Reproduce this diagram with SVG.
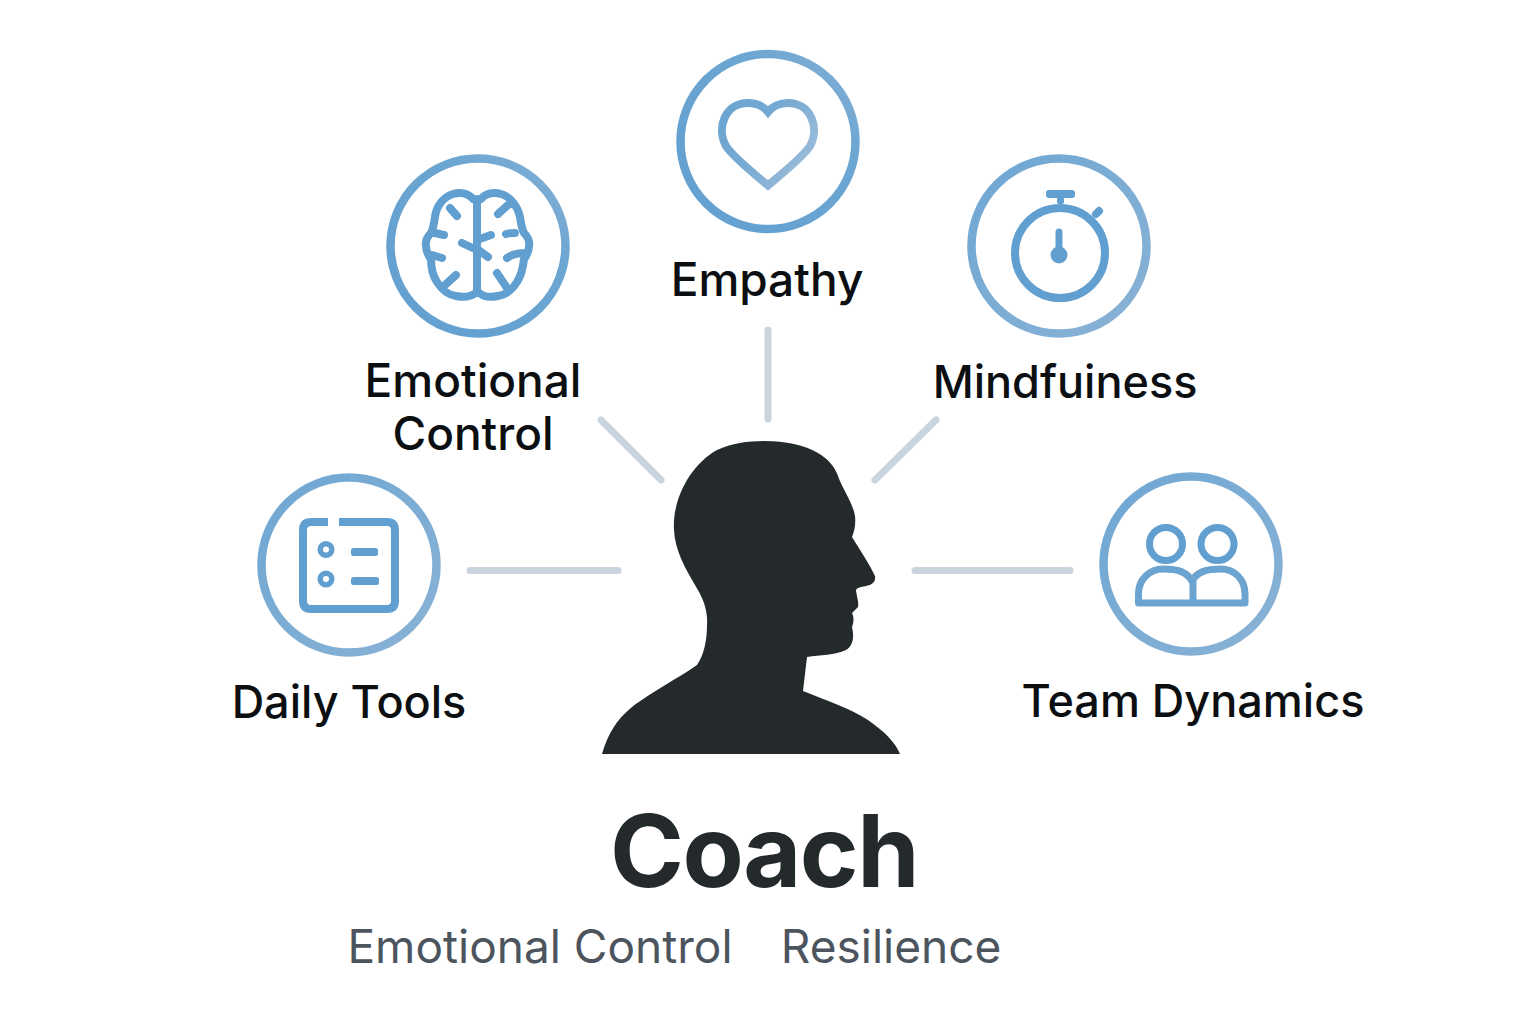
<svg xmlns="http://www.w3.org/2000/svg" width="1536" height="1024" viewBox="0 0 1536 1024">
<defs>
<linearGradient id="g1" x1="0" y1="1" x2="1" y2="0"><stop offset="0" stop-color="#629fd0"/><stop offset="0.7" stop-color="#6ca6d2"/><stop offset="1" stop-color="#86b0d5"/></linearGradient>
<linearGradient id="g2" x1="0" y1="0" x2="1" y2="1"><stop offset="0" stop-color="#6ea7d3"/><stop offset="1" stop-color="#8ab2d5"/></linearGradient>
<linearGradient id="g3" x1="0" y1="0" x2="1" y2="0.600"><stop offset="0" stop-color="#6ba4d1"/><stop offset="0.5" stop-color="#76aad3"/><stop offset="1" stop-color="#9abbd9"/></linearGradient>
</defs>
<style>
.ring{fill:#fff;stroke:url(#g2);stroke-width:8.500}
.ic{fill:none;stroke:#619fd0;stroke-width:8;stroke-linecap:round;stroke-linejoin:round}
.fl{fill:#619fd0}
.cn{stroke:#c9d4df;stroke-width:7;stroke-linecap:round;fill:none}
text{font-family:Inter,"Liberation Sans",sans-serif;text-anchor:middle}
.lb{font-size:46px;font-weight:500;fill:#0b0f12}
.lbs{font-size:45px}
</style>
<rect width="1536" height="1024" fill="#fff"/>
<g id="connectors">
<line class="cn" x1="768" y1="330" x2="768" y2="419"/>
<line class="cn" x1="601" y1="420" x2="661" y2="480"/>
<line class="cn" x1="936" y1="420" x2="875" y2="480"/>
<line class="cn" x1="470" y1="570.500" x2="618" y2="570.500"/>
<line class="cn" x1="915" y1="570.500" x2="1070" y2="570.500"/>
</g>
<g id="empathy">
<circle class="ring" cx="768" cy="141.500" r="87.500" style="stroke:url(#g1)"/>
<path class="ic" d="M768 185.500C752 172 732 156 726 146C716 128 725 103 748 103C757 103 764 107 768 112C772 107 779 103 788 103C811 103 820 128 810 146C804 156 784 172 768 185.500Z" style="stroke:url(#g3);stroke-linejoin:miter"/>
<text class="lb" x="767" y="296">Empathy</text>
</g>
<g id="emotional-control">
<circle class="ring" cx="478" cy="246" r="87.500" style="stroke:url(#g1)"/>
<path class="ic" d="M473 199C468 193 460 192 453 194C443 197 436 207 435 217C434 224 433 229 431 233C427 237 425 241 426 246C426 251 428 255 431 259C431 268 433 276 437 282C442 290 448 295 456 296C465 298 471 297 477 292M481 199C486 193 494 192 501 194C511 197 518 207 520 217C521 224 522 229 524 233C528 237 530 241 529 246C529 251 527 255 524 259C523 268 521 276 517 282C512 290 505 295 498 296C489 298 483 297 478 292M477 199V292M450 208L457 216M435 233L444 235M432 255L442 258M445 285L456 275M508 205L498 214M515 233C510 233 508 233 506 234M525 253C517 253 511 255 507 258M497 273L507 288M462 243L477 250M477 240L491 235M477 249L488 257"/>
<text class="lb" x="473" y="397">Emotional</text>
<text class="lb" x="473" y="450">Control</text>
</g>
<g id="mindfulness">
<circle class="ring" cx="1059" cy="246" r="87.500"/>
<circle class="ic" cx="1060" cy="253" r="45"/>
<rect class="fl" x="1046" y="190" width="29" height="8" rx="3"/>
<rect class="fl" x="1057" y="197" width="7" height="7" rx="2"/>
<path class="ic" d="M1096 214L1099 211"/>
<path class="ic" d="M1059 232V254" style="stroke-width:7"/>
<circle class="fl" cx="1059" cy="255" r="8.500"/>
<text class="lb lbs" x="1065" y="398">Mindfuiness</text>
</g>
<g id="daily-tools">
<circle class="ring" cx="349" cy="565" r="87.500"/>
<path class="ic" d="M328 522H311Q303 522 303 530V601Q303 609 311 609H387Q395 609 395 601V530Q395 522 387 522H339" style="stroke-linecap:butt"/>
<circle class="ic" cx="326" cy="549.500" r="5.800" style="stroke-width:5.500"/>
<circle class="ic" cx="326" cy="579" r="5.800" style="stroke-width:5.500"/>
<rect class="fl" x="351" y="548" width="27" height="8" rx="2.500"/>
<rect class="fl" x="351" y="577" width="28" height="8" rx="2.500"/>
<text class="lb lbs" x="349" y="718">Daily Tools</text>
</g>
<g id="team-dynamics">
<circle class="ring" cx="1191" cy="564" r="87.500"/>
<circle class="ic" cx="1166" cy="544" r="16.500" style="stroke-width:7"/>
<circle class="ic" cx="1217.500" cy="544" r="16.500" style="stroke-width:7"/>
<path class="ic" d="M1138.500 603V594C1138.500 579 1150 569 1163 569C1178 569 1187 572 1192 581C1197 572 1206 569 1221 569C1234 569 1245 579 1245 594V603ZM1193 581V603" style="stroke-width:7;stroke-linecap:butt;stroke:#6ba4d1"/>
<text class="lb lbs" x="1193" y="717">Team Dynamics</text>
</g>
<g id="coach">
<path fill="#24292c" d="M602 754C608 734 616 720 632 707C650 693 680 677 697 665C704 655 707 640 707 625C708 610 703 598 695 585C685 568 675 550 674 530C672 500 690 465 717 450C732 443 748 441 765 441C785 441 805 445 818 453C830 460 835 468 838 476C842 488 853 503 855 516C856 525 854 532 852 537C860 550 870 565 875 576C876 582 872 585 866 586C860 587 856 588 856 591C857 597 859 603 858 607L852 613C854 617 854 622 852 627C854 635 854 645 846 650C835 655 820 655 807 657L803 691C825 700 850 708 868 720C885 732 895 742 900 754Z"/>
<text x="764" y="887" font-size="100" font-weight="700" letter-spacing="-1.500" style="fill:#24292c">Coach</text>
<text x="540" y="963" font-size="46" style="fill:#4c545e">Emotional Control</text>
<text x="891" y="963" font-size="46" style="fill:#4c545e">Resilience</text>
</g>
</svg>
